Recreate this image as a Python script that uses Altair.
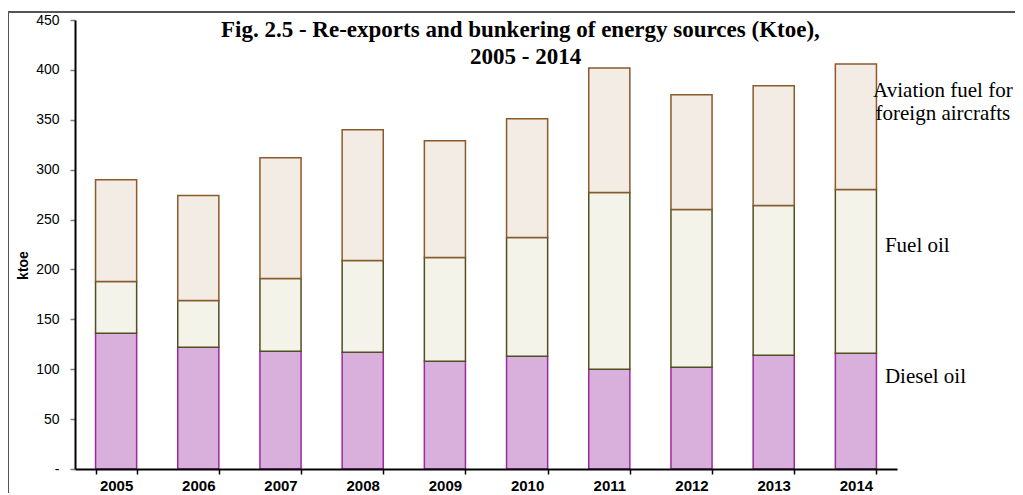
import altair as alt

# ---------------- data ----------------
years = ["2005", "2006", "2007", "2008", "2009", "2010", "2011", "2012", "2013", "2014"]
diesel = [136, 122, 118, 117, 108, 113, 100, 102, 114, 116]
fuel_oil = [52, 47, 73, 92, 104, 119, 177, 158, 150, 164]
aviation = [102, 105, 121, 131, 117, 119, 125, 115, 120, 126]
series_names = ["Diesel oil", "Fuel oil", "Aviation fuel for foreign aircrafts"]
legend_text = ["Diesel oil", "Fuel oil", "Aviation fuel for\nforeign aircrafts"]
title_lines = ["Fig. 2.5 - Re-exports and bunkering of energy sources (Ktoe),", "2005 - 2014"]
y_ticks = [0, 50, 100, 150, 200, 250, 300, 350, 400, 450]

# ---------------- layout / style ----------------
W, H = 822, 449
Y_MAX = 450
PAD_INNER, PAD_OUTER = 0.5, 0.25
STROKES = ["#9c2a9f", "#4f4f22", "#8b5a2b"]
FILLS = ["#d9b0dc", "#f3f3ea", "#f3ece5"]
SERIF = "Liberation Serif"
SANS = "Liberation Sans"

records = []
for i, yr in enumerate(years):
    d, f, av = diesel[i], fuel_oil[i], aviation[i]
    records.append({"year": yr, "series": series_names[0], "start": 0, "end": d})
    records.append({"year": yr, "series": series_names[1], "start": d, "end": d + f})
    records.append({"year": yr, "series": series_names[2], "start": d + f, "end": d + f + av})

last = len(years) - 1
mids = [
    diesel[last] / 2,
    diesel[last] + fuel_oil[last] / 2,
    diesel[last] + fuel_oil[last] + aviation[last] / 2,
]
legend_records = [
    {"year": years[last], "series": series_names[i], "label": legend_text[i], "mid": mids[i]}
    for i in range(3)
]

x_scale = alt.Scale(domain=years, paddingInner=PAD_INNER, paddingOuter=PAD_OUTER)
y_scale = alt.Scale(domain=[0, Y_MAX], nice=False, zero=True)

x_axis = alt.Axis(
    title=None, labelAngle=0, labelFont=SANS, labelFontWeight="bold", labelFontSize=15,
    labelColor="black", labelPadding=4, tickBand="extent", tickSize=5, tickColor="black",
    tickWidth=1.5, domainColor="black", domainWidth=2, zindex=1,
)
y_axis = alt.Axis(
    title="ktoe", values=y_ticks, grid=False,
    labelExpr="datum.value == 0 ? '-' : datum.label",
    labelFont=SANS, labelFontSize=14, labelColor="black", labelPadding=11,
    tickSize=5, tickColor="#7f7f7f", tickWidth=1.5, domainColor="black", domainWidth=2,
    titleFont=SANS, titleFontWeight="bold", titleFontSize=14, titleColor="black",
    titleX=-45, titleY=245, zindex=1,
)

bars = alt.Chart(alt.Data(values=records)).mark_bar(strokeWidth=1.5, strokeJoin="miter").encode(
    x=alt.X("year:N", scale=x_scale, axis=x_axis, sort=years),
    y=alt.Y("start:Q", scale=y_scale, axis=y_axis),
    y2="end:Q",
    fill=alt.Fill("series:N", scale=alt.Scale(domain=series_names, range=FILLS), legend=None),
    stroke=alt.Stroke("series:N", scale=alt.Scale(domain=series_names, range=STROKES), legend=None),
)

legend_base = alt.Chart(alt.Data(values=legend_records)).encode(
    x=alt.X("year:N", scale=x_scale, sort=years),
    y=alt.Y("mid:Q", scale=y_scale),
    text="label:N",
)
leg_diesel = legend_base.mark_text(
    font=SERIF, fontSize=21, color="black", align="left", baseline="middle", dx=29, dy=-34
).transform_filter(alt.datum.series == series_names[0])
leg_fuel = legend_base.mark_text(
    font=SERIF, fontSize=21, color="black", align="left", baseline="middle", dx=29, dy=-25
).transform_filter(alt.datum.series == series_names[1])
leg_avi = legend_base.mark_text(
    font=SERIF, fontSize=21, color="black", align="center", baseline="middle", dx=87,
    dy=-36, lineBreak="\n", lineHeight=23,
).transform_filter(alt.datum.series == series_names[2])

one = alt.Data(values=[{}])
title1 = alt.Chart(one).mark_text(
    text=title_lines[0], font=SERIF, fontSize=23, fontWeight="bold", color="black",
    align="left", baseline="alphabetic",
).encode(x=alt.value(146), y=alt.value(17))
title2 = alt.Chart(one).mark_text(
    text=title_lines[1], font=SERIF, fontSize=23, fontWeight="bold", color="black",
    align="left", baseline="alphabetic",
).encode(x=alt.value(395), y=alt.value(44))

PAD = {"left": 67, "top": 12, "right": 118, "bottom": 24}
frame_top = alt.Chart(one).mark_rule(color="#555555", strokeWidth=2).encode(
    x=alt.value(-PAD["left"]), x2=alt.value(W + PAD["right"]), y=alt.value(-8)
)
frame_left = alt.Chart(one).mark_rule(color="#555555", strokeWidth=1).encode(
    x=alt.value(-PAD["left"] + 0.5), y=alt.value(-8), y2=alt.value(H + PAD["bottom"])
)

chart = alt.layer(
    frame_top, frame_left, bars, leg_diesel, leg_fuel, leg_avi, title1, title2
).properties(
    width=W, height=H, padding=PAD, autosize=alt.AutoSizeParams(type="none"),
    background="white",
).configure_view(stroke=None)

chart.save("out.html", embed_options={"renderer": "svg", "actions": False})
